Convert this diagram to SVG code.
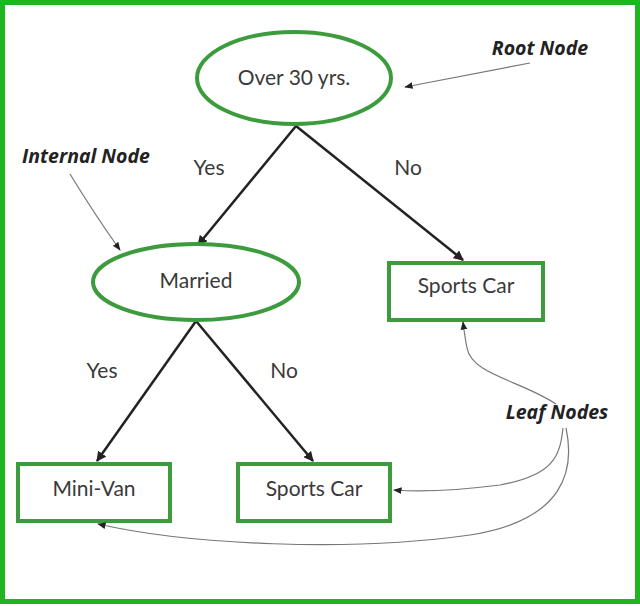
<svg xmlns="http://www.w3.org/2000/svg" width="640" height="606" viewBox="0 0 640 606">
<style>
.node{fill:#fff;stroke:#3c9b3c;stroke-width:4}
.lbl{font-family:Lato,"Liberation Sans",sans-serif;font-size:21px;fill:#3a3a3a;text-anchor:middle}
.ann{font-family:"Open Sans","Liberation Sans",sans-serif;font-size:19.5px;font-weight:bold;font-style:italic;fill:#222;text-anchor:middle}
.edge{stroke:#222;stroke-width:2.5;fill:none;marker-end:url(#ah)}
.ptr{stroke:#777;stroke-width:1.2;fill:none;marker-end:url(#ap)}
</style>
<defs>
<marker id="ah" viewBox="0 0 10 10" refX="9" refY="5" markerWidth="4" markerHeight="4" orient="auto"><path d="M0,0L10,5L0,10z" fill="#222"/></marker>
<marker id="ap" viewBox="0 0 10 10" refX="9" refY="5" markerWidth="7" markerHeight="7" orient="auto"><path d="M0,1L10,5L0,9z" fill="#222"/></marker>
</defs>
<rect x="0" y="0" width="640" height="606" fill="#fff"/>
<rect x="2.5" y="2.5" width="635" height="599" fill="none" stroke="#1fb51f" stroke-width="5"/>
<g id="connectors">
<line class="edge" x1="296" y1="126" x2="198" y2="245"/>
<line class="edge" x1="296" y1="126" x2="463" y2="260"/>
<line class="edge" x1="196" y1="321" x2="97" y2="461"/>
<line class="edge" x1="196" y1="321" x2="313" y2="461"/>
<text class="lbl" x="209" y="175">Yes</text>
<text class="lbl" x="408" y="175">No</text>
<text class="lbl" x="102" y="378">Yes</text>
<text class="lbl" x="284" y="378">No</text>
</g>
<g id="root"><ellipse class="node" cx="294" cy="78" rx="97" ry="46"/><text class="lbl" x="294" y="85">Over 30 yrs.</text></g>
<g id="married"><ellipse class="node" cx="196" cy="282" rx="103" ry="38"/><text class="lbl" x="196" y="288">Married</text></g>
<g id="sports1"><rect class="node" x="389" y="263" width="154" height="57"/><text class="lbl" x="466" y="293">Sports Car</text></g>
<g id="minivan"><rect class="node" x="18" y="464" width="152" height="57"/><text class="lbl" x="94" y="496">Mini-Van</text></g>
<g id="sports2"><rect class="node" x="238" y="464" width="152" height="57"/><text class="lbl" x="314" y="496">Sports Car</text></g>
<g id="annotations">
<text class="ann" x="540" y="55">Root Node</text>
<path class="ptr" d="M530,63 L405,87"/>
<text class="ann" x="86" y="163">Internal Node</text>
<path class="ptr" d="M70,174 Q95,215 120,250"/>
<text class="ann" x="557" y="419">Leaf Nodes</text>
<path class="ptr" d="M556,404 C520,380 472,375 467,348 C465,338 464,330 463,322"/>
<path class="ptr" d="M563,428 C560,455 555,475 500,485 C460,490 420,492 394,490"/>
<path class="ptr" d="M566,428 C575,470 565,520 470,535 C350,552 190,545 98,524"/>
</g>
</svg>
